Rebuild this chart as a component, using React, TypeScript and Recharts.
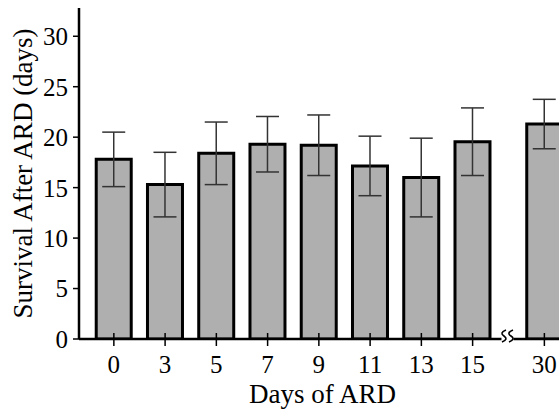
import React from 'react';
import { BarChart, Bar, XAxis, YAxis, ErrorBar, ReferenceDot } from 'recharts';

// Days of ARD (category labels)
const categories = ['0', '3', '5', '7', '9', '11', '13', '15', '30'];
// Mean survival after ARD (days)
const survival = [17.8, 15.3, 18.4, 19.3, 19.2, 17.15, 16.0, 19.55, 21.3];
// Error (± days)
const errors = [2.7, 3.2, 3.1, 2.75, 3.0, 2.95, 3.9, 3.35, 2.45];
// Slot of each category on the axis (gap before 30 for the axis break)
const slots = [0, 1, 2, 3, 4, 5, 6, 7, 8.4];
const breakSlot = 7.68;
const yTicks = [0, 5, 10, 15, 20, 25, 30];

const data = categories.map((c, i) => ({
  cat: c,
  pos: slots[i],
  value: survival[i],
  err: errors[i],
}));

const FONT = '"Liberation Serif", "Times New Roman", serif';

const XTick = (props: any) => {
  const { x, y, payload } = props;
  const idx = slots.indexOf(payload.value);
  const label = idx >= 0 ? categories[idx] : '';
  return (
    <g>
      <line x1={x} x2={x} y1={y - 6} y2={y + 7} stroke="#000" strokeWidth={1.5} />
      <text x={x} y={y + 34} textAnchor="middle" fontFamily={FONT} fontSize={25} fill="#000">
        {label}
      </text>
    </g>
  );
};

const BreakMark = (props: any) => {
  const { cx, cy } = props;
  if (cx == null || cy == null) return null;
  const squiggle = (ox: number) => {
    const top = cy - 9;
    return `M ${ox + 2} ${top} C ${ox - 3} ${top + 2}, ${ox - 3} ${top + 4}, ${ox} ${top + 6} S ${ox + 3} ${top + 10}, ${ox - 2} ${top + 12}`;
  };
  return (
    <g>
      <rect x={cx - 6} y={cy - 3} width={12} height={6} fill="#fff" />
      <path d={squiggle(cx - 3.5)} stroke="#000" strokeWidth={1.6} fill="none" />
      <path d={squiggle(cx + 3.5)} stroke="#000" strokeWidth={1.6} fill="none" />
    </g>
  );
};

const YLabel = (props: any) => {
  const vb = props.viewBox || { x: 0, y: 8, width: 79, height: 331 };
  const cx = vb.x + 23;
  const cy = vb.y + vb.height / 2;
  return (
    <text
      x={cx}
      y={cy}
      transform={`rotate(-90, ${cx}, ${cy})`}
      textAnchor="middle"
      dominantBaseline="central"
      fontFamily={FONT}
      fontSize={27}
      fill="#000"
    >
      Survival After ARD (days)
    </text>
  );
};

const XLabel = (props: any) => {
  const vb = props.viewBox || { x: 79, y: 339, width: 491, height: 60 };
  const cx = vb.x + vb.width / 2 - 2;
  return (
    <text x={cx} y={vb.y + 64} textAnchor="middle" fontFamily={FONT} fontSize={27} fill="#000">
      Days of ARD
    </text>
  );
};

export default function App() {
  return (
    <div
      style={{
        position: 'absolute',
        left: 0,
        top: 0,
        width: 559,
        height: 410,
        overflow: 'hidden',
        background: '#fff',
      }}
    >
      <BarChart
        width={580}
        height={410}
        data={data}
        margin={{ top: 8, right: 10, bottom: 11, left: 0 }}
      >
        <XAxis
          dataKey="pos"
          type="number"
          domain={[-0.68, 8.9]}
          ticks={slots}
          allowDataOverflow
          interval={0}
          height={60}
          tickSize={0}
          tickMargin={0}
          tickLine={false}
          tick={<XTick />}
          axisLine={{ stroke: '#000', strokeWidth: 2.5 }}
          label={<XLabel />}
        />
        <YAxis
          type="number"
          domain={[0, 32.8]}
          ticks={yTicks}
          allowDataOverflow
          interval={0}
          width={79}
          tickSize={6}
          tickMargin={5}
          tickLine={{ stroke: '#000', strokeWidth: 1.5 }}
          axisLine={{ stroke: '#000', strokeWidth: 2.5 }}
          tick={{ fontFamily: FONT, fontSize: 25, fill: '#000' }}
          label={<YLabel />}
        />
        <Bar
          dataKey="value"
          barSize={35}
          fill="#afafaf"
          stroke="#000"
          strokeWidth={3}
          isAnimationActive={false}
        >
          <ErrorBar dataKey="err" width={11.5} stroke="#333" strokeWidth={1.5} direction="y" />
        </Bar>
        <ReferenceDot x={breakSlot} y={0} ifOverflow="visible" shape={<BreakMark />} />
      </BarChart>
    </div>
  );
}
